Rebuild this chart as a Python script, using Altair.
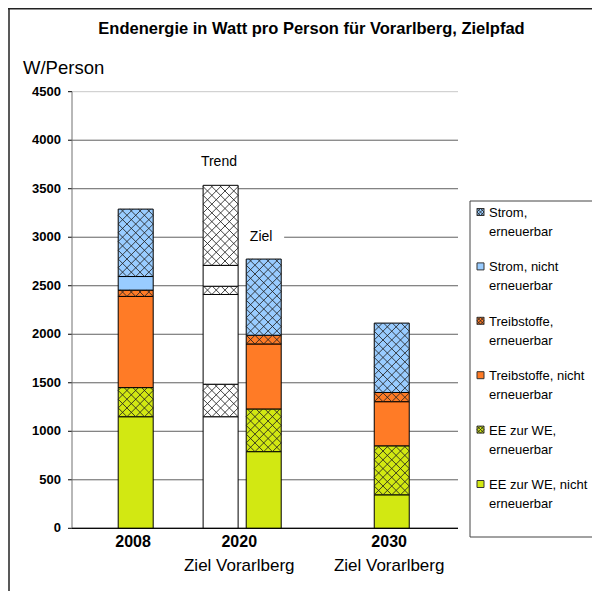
import altair as alt
import numpy as np
import pandas as pd

# ---------------- data ----------------
bar_names = ["2008", "2020 Trend", "2020 Ziel", "2030"]
bar_pos = [0.495, 1.155, 1.49, 2.485]
bar_trend = [False, True, False, False]

series = ["EE zur WE, nicht erneuerbar", "EE zur WE, erneuerbar",
          "Treibstoffe, nicht erneuerbar", "Treibstoffe, erneuerbar",
          "Strom, nicht erneuerbar", "Strom, erneuerbar"]
series_colors = ["#D2E812", "#D2E812", "#FF7B26", "#FF7B26", "#99CCFF", "#99CCFF"]
series_hatched = [False, True, False, True, False, True]

ee_nicht = [1150, 1150, 790, 345]
ee_ern = [300, 335, 440, 505]
treib_nicht = [940, 925, 670, 455]
treib_ern = [65, 85, 90, 95]
strom_nicht = [140, 215, 0, 0]
strom_ern = [695, 825, 785, 715]
values = [ee_nicht, ee_ern, treib_nicht, treib_ern, strom_nicht, strom_ern]

y_ticks = [0, 500, 1000, 1500, 2000, 2500, 3000, 3500, 4000, 4500]
x_labels = ["2008", "2020", "2030"]
x_label_pos = [0.475, 1.30, 2.465]
x_sublabels = ["", "Ziel Vorarlberg", "Ziel Vorarlberg"]

ann_text = ["Trend", "Ziel"]
ann_x = [1.142, 1.47]
ann_y = [3775, 3000]

title_text = "Endenergie in Watt pro Person für Vorarlberg, Zielpfad"
y_title = "W/Person"

# ---------------- layout (page pixels) ----------------
OX, OY = 8, 8            # page offset of the svg
PL, PR = 72.0, 458.0     # page x of category positions 0 and 3
PB, PT = 528.3, 91.7     # page y of values 0 and 4500
RIGHT, BOTTOM = 592, 591
PAD_L = PL - OX
VIEW_W = RIGHT - PL
VIEW_H = BOTTOM - OY
PPX = (PR - PL) / 3.0
PPY = (PB - PT) / 4500.0
BAR_PX = 35.0
HATCH = 8.75
FONT = "Liberation Sans"


def dx(px):
    return (px - PL) / PPX


def dy(py):
    return (PB - py) / PPY


def vx(px):
    return px - PL


def vy(py):
    return py - OY


xs = alt.Scale(domain=[dx(PL), dx(RIGHT)], nice=False, zero=False)
ys = alt.Scale(domain=[dy(BOTTOM), dy(OY)], nice=False, zero=False)


def hatch(x0, x1, y0, y1, step):
    W = (x1 - x0) * PPX
    H = (y1 - y0) * PPY
    segs = []
    for c in np.arange(-np.ceil(W / step), np.ceil(H / step) + 1) * step:
        a, b = max(0.0, -c), min(W, H - c)
        if b - a > 0.3:
            segs.append((a, a + c, b, b + c))
    for c in np.arange(1, np.ceil((W + H) / step) + 1) * step:
        a, b = max(0.0, c - H), min(W, c)
        if b - a > 0.3:
            segs.append((a, c - a, b, c - b))
    return [dict(hx0=x0 + p / PPX, hy0=y0 + q / PPY, hx1=x0 + r / PPX, hy1=y0 + s / PPY)
            for p, q, r, s in segs]


# stacked segments
rows = []
for b in range(len(bar_names)):
    base = 0
    for s in range(len(series)):
        v = values[s][b]
        if v > 0:
            rows.append(dict(bar=bar_names[b], series=series[s],
                             x0=bar_pos[b] - BAR_PX / 2 / PPX, x1=bar_pos[b] + BAR_PX / 2 / PPX,
                             y0=base, y1=base + v,
                             fill="white" if bar_trend[b] else series_colors[s],
                             hatched=series_hatched[s]))
        base += v
seg = pd.DataFrame(rows)

hrows = []
for _, r in seg[seg.hatched].iterrows():
    hrows += hatch(r.x0, r.x1, r.y0, r.y1, HATCH)

# legend
leg_rows = []
lrows_h = []
for i, s in enumerate(reversed(range(len(series)))):
    cy = 212 + 54.4 * i
    first, second = series[s].rsplit(" ", 1)
    sx0, sx1, sy0, sy1 = dx(477), dx(484), dy(cy + 3.5), dy(cy - 3.5)
    leg_rows.append(dict(label=first + "\n" + second, tx=dx(489), ty=dy(cy + 5),
                         sx0=sx0, sx1=sx1, sy0=sy0, sy1=sy1, fill=series_colors[s]))
    if series_hatched[s]:
        lrows_h += hatch(sx0, sx1, sy0, sy1, 3.5)
leg = pd.DataFrame(leg_rows)
leg_box = pd.DataFrame([dict(x0=dx(470), x1=dx(600), y0=dy(537), y1=dy(201))])

grid = pd.DataFrame(dict(v=y_ticks, x0=0.0, x1=3.0, t0=dx(68), lx=dx(61),
                         lab=[str(t) for t in y_ticks],
                         col=["#000000"] + ["#606060"] * 8 + ["#c8c8c8"]))
xl = pd.DataFrame(dict(t=x_labels, x=x_label_pos, sub=x_sublabels))
ann = pd.DataFrame(dict(t=ann_text, x=ann_x, y=ann_y))
ziel_box = pd.DataFrame([dict(x0=ann_x[1] - 23 / PPX, x1=ann_x[1] + 23 / PPX, y0=2930, y1=3070)])


def X(f):
    return alt.X(f, type="quantitative", scale=xs, axis=None)


def Y(f):
    return alt.Y(f, type="quantitative", scale=ys, axis=None)


one = pd.DataFrame(dict(a=[0]))

frame_left = alt.Chart(one).mark_rule(color="#222", strokeWidth=1.5).encode(
    x=alt.value(vx(9)), y=alt.value(0), y2=alt.value(VIEW_H))
frame_top = alt.Chart(one).mark_rule(color="#222", strokeWidth=1.5).encode(
    x=alt.value(-PAD_L), x2=alt.value(VIEW_W), y=alt.value(0.75))

grid_layer = alt.Chart(grid).mark_rule(strokeWidth=1).encode(
    x=X("x0"), x2="x1", y=Y("v"), color=alt.Color("col:N", scale=None))

# y axis ticks and tick labels
ytick_layer = alt.Chart(grid).mark_rule(strokeWidth=1, color="black").encode(
    x=X("t0"), x2="x0", y=Y("v"))
ylab_layer = alt.Chart(grid).mark_text(font=FONT, fontSize=13, fontWeight="bold", color="black",
                                       align="right", baseline="middle").encode(
    x=X("lx"), y=Y("v"), text="lab:N")

ziel_bg = alt.Chart(ziel_box).mark_rect(fill="white").encode(
    x=X("x0"), x2="x1", y=Y("y0"), y2="y1")

bars = alt.Chart(seg).mark_rect(stroke="black", strokeWidth=1).encode(
    x=X("x0"), x2="x1", y=Y("y0"), y2="y1", fill=alt.Color("fill:N", scale=None),
    tooltip=["bar", "series", "y0", "y1"])

hatch_layer = alt.Chart(pd.DataFrame(hrows)).mark_rule(color="#222", strokeWidth=0.85).encode(
    x=X("hx0"), x2="hx1", y=Y("hy0"), y2="hy1")

axis_lines = alt.Chart(pd.DataFrame(dict(x0=[0.0, 0.0], x1=[0.0, 3.0], y0=[0.0, 0.0], y1=[4500.0, 0.0],
                                         col=["#707070", "#000000"]))).mark_rule(strokeWidth=1).encode(
    x=X("x0"), x2="x1", y=Y("y0"), y2="y1", color=alt.Color("col:N", scale=None))

xlab = alt.Chart(xl).mark_text(font=FONT, fontSize=16, fontWeight="bold", color="black",
                               baseline="alphabetic").encode(
    x=X("x"), y=alt.value(vy(547)), text="t:N")
xsub = alt.Chart(xl).mark_text(font=FONT, fontSize=17, color="black", baseline="alphabetic").encode(
    x=X("x"), y=alt.value(vy(571)), text="sub:N")

ann_layer = alt.Chart(ann).mark_text(font=FONT, fontSize=14, color="black", baseline="middle").encode(
    x=X("x"), y=Y("y"), text="t:N")

title_layer = alt.Chart(pd.DataFrame(dict(t=[title_text]))).mark_text(
    font=FONT, fontSize=16.5, fontWeight="bold", color="black", baseline="alphabetic").encode(
    x=alt.value(vx(311.5)), y=alt.value(vy(34)), text="t:N")
ytitle_layer = alt.Chart(pd.DataFrame(dict(t=[y_title]))).mark_text(
    font=FONT, fontSize=18.5, color="black", align="left", baseline="alphabetic").encode(
    x=alt.value(vx(23)), y=alt.value(vy(74)), text="t:N")

legbox_layer = alt.Chart(leg_box).mark_rect(fill="white", stroke="#444", strokeWidth=1).encode(
    x=X("x0"), x2="x1", y=Y("y0"), y2="y1")
legsw = alt.Chart(leg).mark_rect(stroke="#333", strokeWidth=1).encode(
    x=X("sx0"), x2="sx1", y=Y("sy0"), y2="sy1", fill=alt.Color("fill:N", scale=None))
legh = alt.Chart(pd.DataFrame(lrows_h)).mark_rule(color="#222", strokeWidth=0.8).encode(
    x=X("hx0"), x2="hx1", y=Y("hy0"), y2="hy1")
legtxt = alt.Chart(leg).mark_text(font=FONT, fontSize=13, color="black", align="left",
                                  baseline="alphabetic", lineBreak="\n", lineHeight=19).encode(
    x=X("tx"), y=Y("ty"), text="label:N")

chart = alt.layer(
    frame_left, frame_top, grid_layer, ytick_layer, ylab_layer, ziel_bg, bars, hatch_layer,
    axis_lines, xlab, xsub, ann_layer, title_layer, ytitle_layer,
    legbox_layer, legsw, legh, legtxt
).properties(
    width=VIEW_W, height=VIEW_H,
    padding={"left": PAD_L, "top": 0, "right": 0, "bottom": 0},
    autosize=alt.AutoSizeParams(type="none")
).configure_view(stroke=None)

chart.save("out.html", embed_options={"renderer": "svg", "actions": False})
